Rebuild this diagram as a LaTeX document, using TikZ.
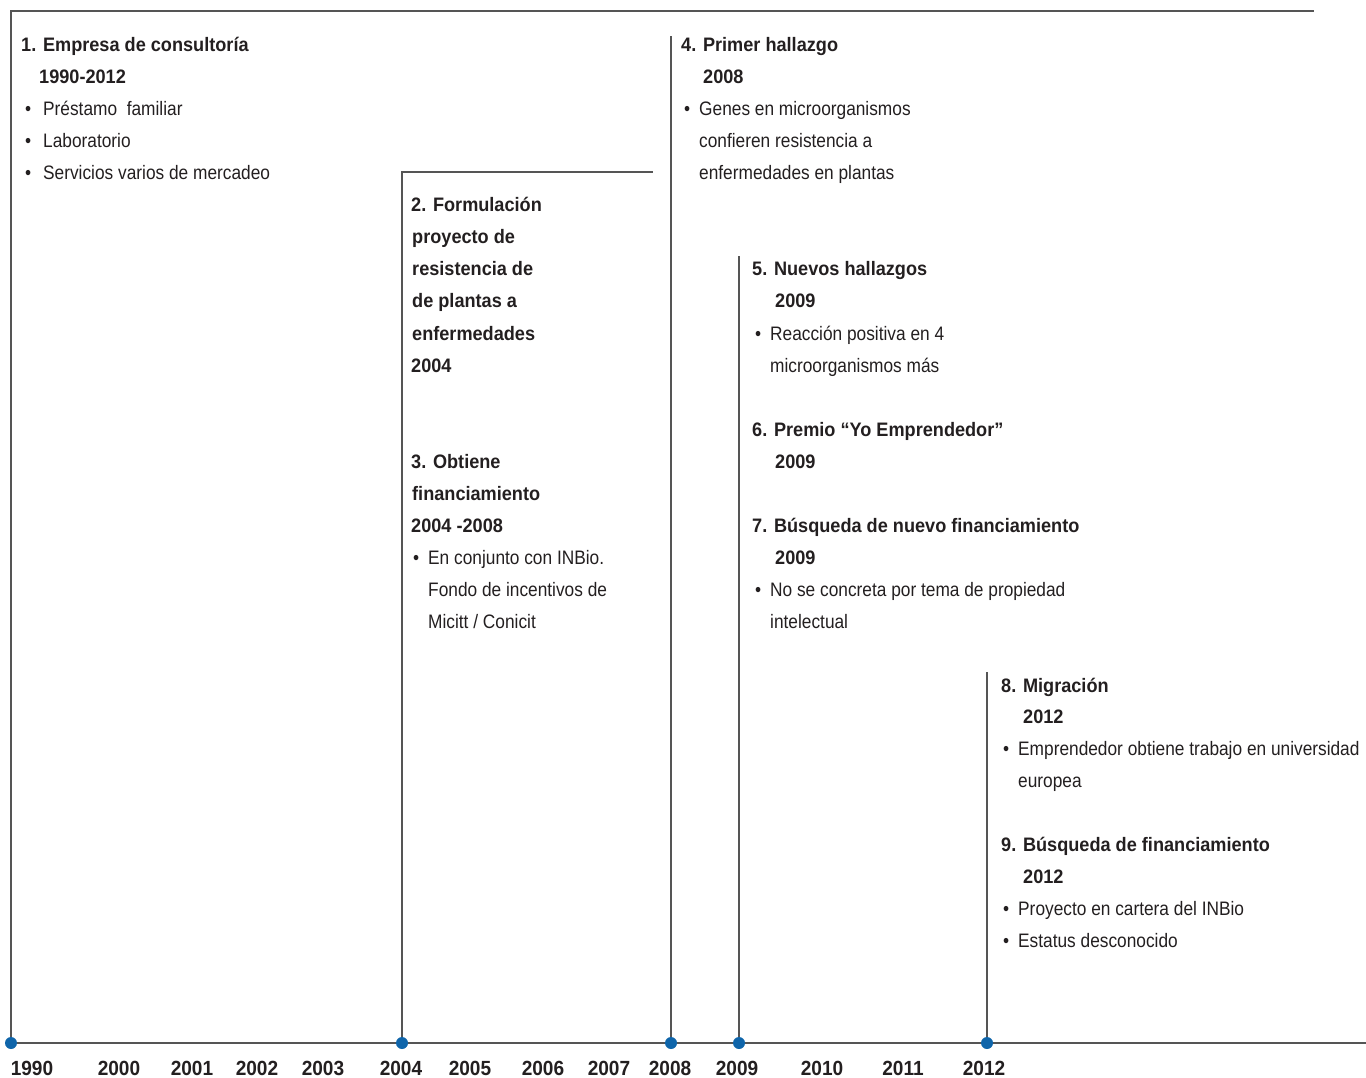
\documentclass[tikz,border=0pt]{standalone}
\usepackage{fontspec}
\setmainfont{Liberation Sans}[FakeStretch=0.887, BoldFeatures={FakeStretch=0.93}]
\definecolor{txt}{HTML}{231F20}
\definecolor{ln}{HTML}{555555}
\definecolor{evdot}{HTML}{0F65AA}
\newcommand{\bul}[1]{\makebox[#1][l]{•}}
\tikzset{
  txtline/.style={anchor=base west, inner sep=0pt, font=\fontsize{19.5}{20}\selectfont, text=txt},
  headline/.style={txtline, font=\fontsize{19.5}{20}\selectfont\bfseries},
  yearlbl/.style={anchor=base, inner sep=0pt, font=\fontsize{20.5}{21}\selectfont\bfseries, text=txt},
  tline/.style={draw=ln, line width=1.3pt},
  evt/.style={circle, fill=evdot, inner sep=0pt, minimum size=12pt},
}
\begin{document}
\begin{tikzpicture}[x=1pt,y=-1pt]
\useasboundingbox (0,0) rectangle (1366,1078);
% axis points
\coordinate (p1990) at (11,1043);
\coordinate (p2004) at (402,1043);
\coordinate (p2008) at (671,1043);
\coordinate (p2009) at (739,1043);
\coordinate (p2012) at (987,1043);
\coordinate (axend) at (1366,1043);
\coordinate (top1990) at (11,11);
\coordinate (topend) at (1314,11);
\coordinate (top2004) at (402,172);
\coordinate (end2004) at (653,172);
\coordinate (top2008) at (671,36);
\coordinate (top2009) at (739,256);
\coordinate (top2012) at (987,672);
% lines
\draw[tline] (p1990) -- (axend);
\draw[tline] (p1990) -- (top1990) -- (topend);
\draw[tline] (p2004) -- (top2004) -- (end2004);
\draw[tline] (p2008) -- (top2008);
\draw[tline] (p2009) -- (top2009);
\draw[tline] (p2012) -- (top2012);
% dots
\node[evt] (d1990) at (p1990) {};
\node[evt] (d2004) at (p2004) {};
\node[evt] (d2008) at (p2008) {};
\node[evt] (d2009) at (p2009) {};
\node[evt] (d2012) at (p2012) {};
% year labels
\node[yearlbl] (y1990) at (32,1075) {1990};
\node[yearlbl] (y2000) at (119,1075) {2000};
\node[yearlbl] (y2001) at (192,1075) {2001};
\node[yearlbl] (y2002) at (257,1075) {2002};
\node[yearlbl] (y2003) at (323,1075) {2003};
\node[yearlbl] (y2004) at (401,1075) {2004};
\node[yearlbl] (y2005) at (470,1075) {2005};
\node[yearlbl] (y2006) at (543,1075) {2006};
\node[yearlbl] (y2007) at (609,1075) {2007};
\node[yearlbl] (y2008) at (670,1075) {2008};
\node[yearlbl] (y2009) at (737,1075) {2009};
\node[yearlbl] (y2010) at (822,1075) {2010};
\node[yearlbl] (y2011) at (903,1075) {2011};
\node[yearlbl] (y2012) at (984,1075) {2012};
% block 1
\node[headline] (b1a) at (21,52) {1. Empresa de consultoría};
\node[headline] (b1b) at (39,84) {1990-2012};
\node[txtline] (b1c) at (25,116) {\bul{18pt}Préstamo\ \ familiar};
\node[txtline] (b1d) at (25,148) {\bul{18pt}Laboratorio};
\node[txtline] (b1e) at (25,180) {\bul{18pt}Servicios varios de mercadeo};
% block 2
\node[headline] (b2a) at (411,212) {2. Formulación};
\node[headline] (b2b) at (412,244) {proyecto de};
\node[headline] (b2c) at (412,276) {resistencia de};
\node[headline] (b2d) at (412,308) {de plantas a};
\node[headline] (b2e) at (412,340) {enfermedades};
\node[headline] (b2f) at (411,372) {2004};
% block 3
\node[headline] (b3a) at (411,468) {3. Obtiene};
\node[headline] (b3b) at (412,500) {financiamiento};
\node[headline] (b3c) at (411,532) {2004 -2008};
\node[txtline] (b3d) at (413,564) {\bul{15pt}En conjunto con INBio.};
\node[txtline] (b3e) at (428,596) {Fondo de incentivos de};
\node[txtline] (b3f) at (428,628) {Micitt / Conicit};
% block 4
\node[headline] (b4a) at (681,52) {4. Primer hallazgo};
\node[headline] (b4b) at (703,84) {2008};
\node[txtline] (b4c) at (684,116) {\bul{15pt}Genes en microorganismos};
\node[txtline] (b4d) at (699,148) {confieren resistencia a};
\node[txtline] (b4e) at (699,180) {enfermedades en plantas};
% block 5
\node[headline] (b5a) at (752,276) {5. Nuevos hallazgos};
\node[headline] (b5b) at (775,308) {2009};
\node[txtline] (b5c) at (755,340) {\bul{15pt}Reacción positiva en 4};
\node[txtline] (b5d) at (770,372) {microorganismos más};
% block 6
\node[headline] (b6a) at (752,436) {6. Premio “Yo Emprendedor”};
\node[headline] (b6b) at (775,468) {2009};
% block 7
\node[headline] (b7a) at (752,532) {7. Búsqueda de nuevo financiamiento};
\node[headline] (b7b) at (775,564) {2009};
\node[txtline] (b7c) at (755,596) {\bul{15pt}No se concreta por tema de propiedad};
\node[txtline] (b7d) at (770,628) {intelectual};
% block 8
\node[headline] (b8a) at (1001,692) {8. Migración};
\node[headline] (b8b) at (1023,723) {2012};
\node[txtline] (b8c) at (1003,755) {\bul{15pt}Emprendedor obtiene trabajo en universidad};
\node[txtline] (b8d) at (1018,787) {europea};
% block 9
\node[headline] (b9a) at (1001,851) {9. Búsqueda de financiamiento};
\node[headline] (b9b) at (1023,883) {2012};
\node[txtline] (b9c) at (1003,915) {\bul{15pt}Proyecto en cartera del INBio};
\node[txtline] (b9d) at (1003,947) {\bul{15pt}Estatus desconocido};
\end{tikzpicture}
\end{document}
